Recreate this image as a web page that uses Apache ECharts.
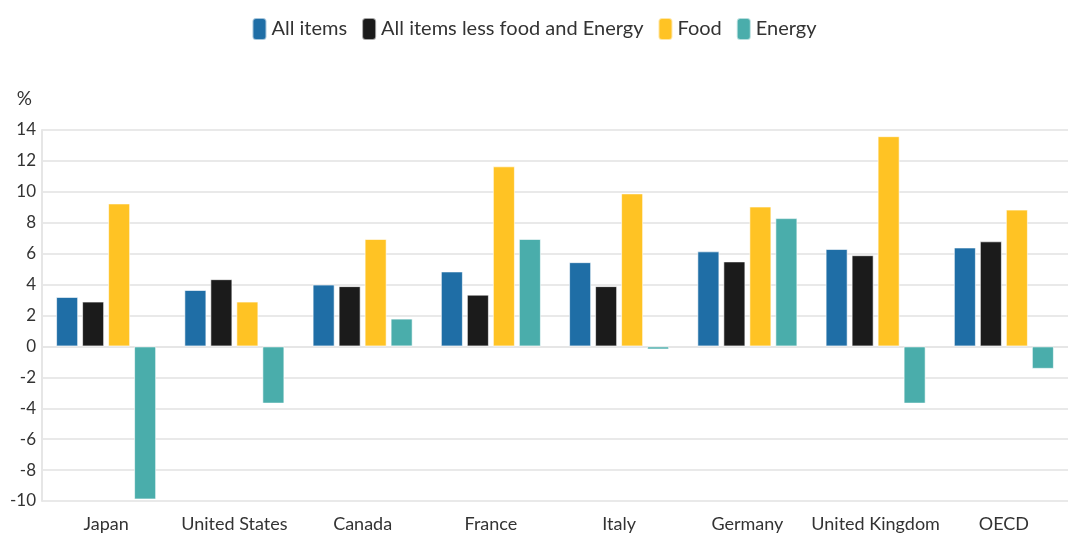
<!DOCTYPE html>
<html>
<head>
<meta charset="utf-8">
<script src="https://cdn.jsdelivr.net/npm/echarts@6/dist/echarts.min.js"></script>
<style>
  html, body { margin: 0; padding: 0; background: #fff; }
  #main { width: 1068px; height: 535px; }
</style>
</head>
<body>
<div id="main"></div>
<script>
// countries on the x axis
var countries = ['Japan', 'United States', 'Canada', 'France', 'Italy', 'Germany', 'United Kingdom', 'OECD'];
// values, in %
var allItems = [3.2, 3.65, 4.0, 4.85, 5.45, 6.15, 6.3, 6.4];
var coreItems = [2.9, 4.35, 3.9, 3.35, 3.9, 5.5, 5.9, 6.8];
var food = [9.25, 2.9, 6.95, 11.65, 9.9, 9.05, 13.6, 8.85];
var energy = [-9.9, -3.7, 1.8, 6.95, -0.2, 8.3, -3.7, -1.45];

var chart = echarts.init(document.getElementById('main'));
var font = 'Lato, "Noto Sans", sans-serif';

function bar(name, data, color) {
    return {
        name: name,
        type: 'bar',
        data: data,
        barGap: '18%',
        barCategoryGap: '22%',
        itemStyle: { color: color, borderColor: 'rgba(255,255,255,0.6)', borderWidth: 1 }
    };
}

chart.setOption({
    animation: false,
    textStyle: { fontFamily: font },
    legend: {
        top: 12,
        left: 'center',
        icon: 'roundRect',
        itemWidth: 14,
        itemHeight: 22,
        itemGap: 14,
        textStyle: { fontSize: 20, color: '#333', fontFamily: font }
    },
    grid: { left: 42, right: 0, top: 130, bottom: 34 },
    xAxis: {
        type: 'category',
        data: countries,
        axisLine: { lineStyle: { color: '#e6e6e6', width: 2 } },
        axisTick: { alignWithLabel: true, length: 6, lineStyle: { color: '#e6e6e6', width: 2 } },
        axisLabel: { fontSize: 18, color: '#333', margin: 14, interval: 0 }
    },
    yAxis: {
        type: 'value',
        name: '%',
        nameLocation: 'end',
        nameGap: 22,
        nameTextStyle: { fontSize: 19, color: '#333', align: 'right', padding: [0, 10, 0, 0] },
        min: -10,
        max: 14,
        interval: 2,
        axisLine: { show: true, lineStyle: { color: '#e6e6e6', width: 2 } },
        axisLabel: { fontSize: 17, color: '#333', margin: 6 },
        splitLine: { lineStyle: { color: '#e9e9e9', width: 2 } }
    },
    series: [
        bar('All items', allItems, '#1f6ea6'),
        bar('All items less food and Energy', coreItems, '#1b1b1b'),
        bar('Food', food, '#ffc324'),
        bar('Energy', energy, '#4aadab')
    ]
});
</script>
</body>
</html>
